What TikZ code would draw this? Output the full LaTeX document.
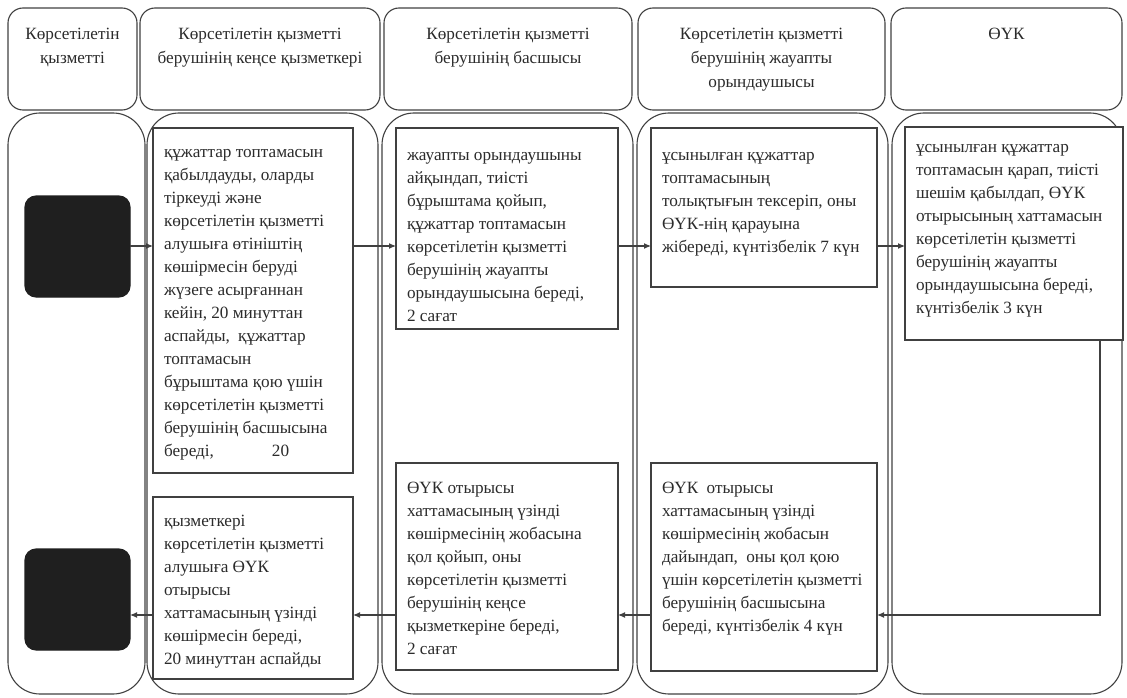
\documentclass[tikz,border=0pt]{standalone}
\usepackage{fontspec}
\setmainfont{Liberation Serif}
\usetikzlibrary{arrows.meta}
\definecolor{ink}{gray}{0.17}
\definecolor{ln}{gray}{0.25}
\definecolor{blk}{gray}{0.12}
% box text: width, height, top gap, text
\newcommand\bxt[4]{\begin{minipage}[c][#2pt][t]{#1pt}\vspace*{#3pt}\raggedright\leftskip=11pt\relax\fontsize{17.2}{23}\selectfont\strut #4\end{minipage}}
\newcommand\hdt[3]{\begin{minipage}[c][#2pt][t]{#1pt}\vspace*{15pt}\centering\fontsize{17.2}{24}\selectfont\strut #3\end{minipage}}
\tikzset{
  base/.style={anchor=north west, inner sep=0pt, outer sep=0pt, line width=1.1pt, draw=ln, text=ink},
  head/.style={base, rounded corners=15pt},
  lane/.style={base, rounded corners=32pt},
  tbox/.style={base, line width=1.2pt},
  blackbox/.style={base, fill=blk, draw=blk, rounded corners=11pt},
  arr/.style={draw=ln, line width=1.1pt, -{Latex[length=7pt,width=6pt]}}
}
\begin{document}
\begin{tikzpicture}[x=1pt,y=-1pt]
\useasboundingbox (0,0) rectangle (1127,698);
% headers
\node[head] (h1) at (8,8) {\hdt{129}{102}{Көрсетілетін\\қызметті}};
\node[head] (h2) at (140,8) {\hdt{240}{102}{Көрсетілетін қызметті\\берушінің кеңсе қызметкері}};
\node[head] (h3) at (384,8) {\hdt{248}{102}{Көрсетілетін қызметті\\берушінің басшысы}};
\node[head] (h4) at (638,8) {\hdt{247}{102}{Көрсетілетін қызметті\\берушінің жауапты\\орындаушысы}};
\node[head] (h5) at (891,8) {\hdt{231}{102}{ӨҮК}};
% lanes
\node[lane, minimum width=137pt, minimum height=581pt] (l1) at (8,113) {};
\node[lane, minimum width=231pt, minimum height=581pt] (l2) at (147,113) {};
\node[lane, minimum width=251pt, minimum height=581pt] (l3) at (382,113) {};
\node[lane, minimum width=251pt, minimum height=581pt] (l4) at (637,113) {};
\node[lane, minimum width=230pt, minimum height=581pt] (l5) at (892,113) {};
% black boxes
\node[blackbox, minimum width=105pt, minimum height=101pt] (k1) at (25,196) {};
\node[blackbox, minimum width=105pt, minimum height=101pt] (k2) at (25,549) {};
% text boxes
\node[tbox, fill=white] (b1) at (153,128) {\bxt{200}{345}{13.5}{құжаттар топтамасын\\қабылдауды, оларды\\тіркеуді және\\көрсетілетін қызметті\\алушыға өтініштің\\көшірмесін беруді\\жүзеге асырғаннан\\кейін, 20 минуттан\\аспайды,\hspace{4pt} құжаттар\\топтамасын\\бұрыштама қою үшін\\көрсетілетін қызметті\\берушінің басшысына\\береді,\hspace{58pt}20}};
\node[tbox, fill=white] (b2) at (153,497) {\bxt{200}{182}{13}{қызметкері\\көрсетілетін қызметті\\алушыға ӨҮК\\отырысы\\хаттамасының үзінді\\көшірмесін береді,\\20 минуттан аспайды}};
\node[tbox, fill=white] (b3) at (396,128) {\bxt{222}{201}{16.5}{жауапты орындаушыны\\айқындап, тиісті\\бұрыштама қойып,\\құжаттар топтамасын\\көрсетілетін қызметті\\берушінің жауапты\\орындаушысына береді,\\2 сағат}};
\node[tbox, fill=white] (b4) at (396,463) {\bxt{222}{207}{14}{ӨҮК отырысы\\хаттамасының үзінді\\көшірмесінің жобасына\\қол қойып, оны\\көрсетілетін қызметті\\берушінің кеңсе\\қызметкеріне береді,\\2 сағат}};
\node[tbox, fill=white] (b5) at (651,128) {\bxt{226}{159}{16.5}{ұсынылған құжаттар\\топтамасының\\толықтығын тексеріп, оны\\ӨҮК-нің қарауына\\жібереді, күнтізбелік 7 күн}};
\node[tbox, fill=white] (b6) at (651,463) {\bxt{226}{208}{14}{ӨҮК\hspace{4pt} отырысы\\хаттамасының үзінді\\көшірмесінің жобасын\\дайындап,\hspace{4pt} оны қол қою\\үшін көрсетілетін қызметті\\берушінің басшысына\\береді, күнтізбелік 4 күн}};
\node[tbox, fill=white] (b7) at (905,127) {\bxt{218}{213}{9.5}{ұсынылған құжаттар\\топтамасын қарап, тиісті\\шешім қабылдап, ӨҮК\\отырысының хаттамасын\\көрсетілетін қызметті\\берушінің жауапты\\орындаушысына береді,\\күнтізбелік 3 күн}};
% helper coordinates
\coordinate (ya) at (0,246);
\coordinate (yb) at (0,615);
\coordinate (xr) at (1100,0);
% connectors
\draw[arr] (k1.east |- ya) -- (b1.west |- ya);
\draw[arr] (b1.east |- ya) -- (b3.west |- ya);
\draw[arr] (b3.east |- ya) -- (b5.west |- ya);
\draw[arr] (b5.east |- ya) -- (b7.west |- ya);
\draw[arr] (b7.south -| xr) |- (b6.east |- yb);
\draw[arr] (b6.west |- yb) -- (b4.east |- yb);
\draw[arr] (b4.west |- yb) -- (b2.east |- yb);
\draw[arr] (b2.west |- yb) -- (k2.east |- yb);
\end{tikzpicture}
\end{document}
